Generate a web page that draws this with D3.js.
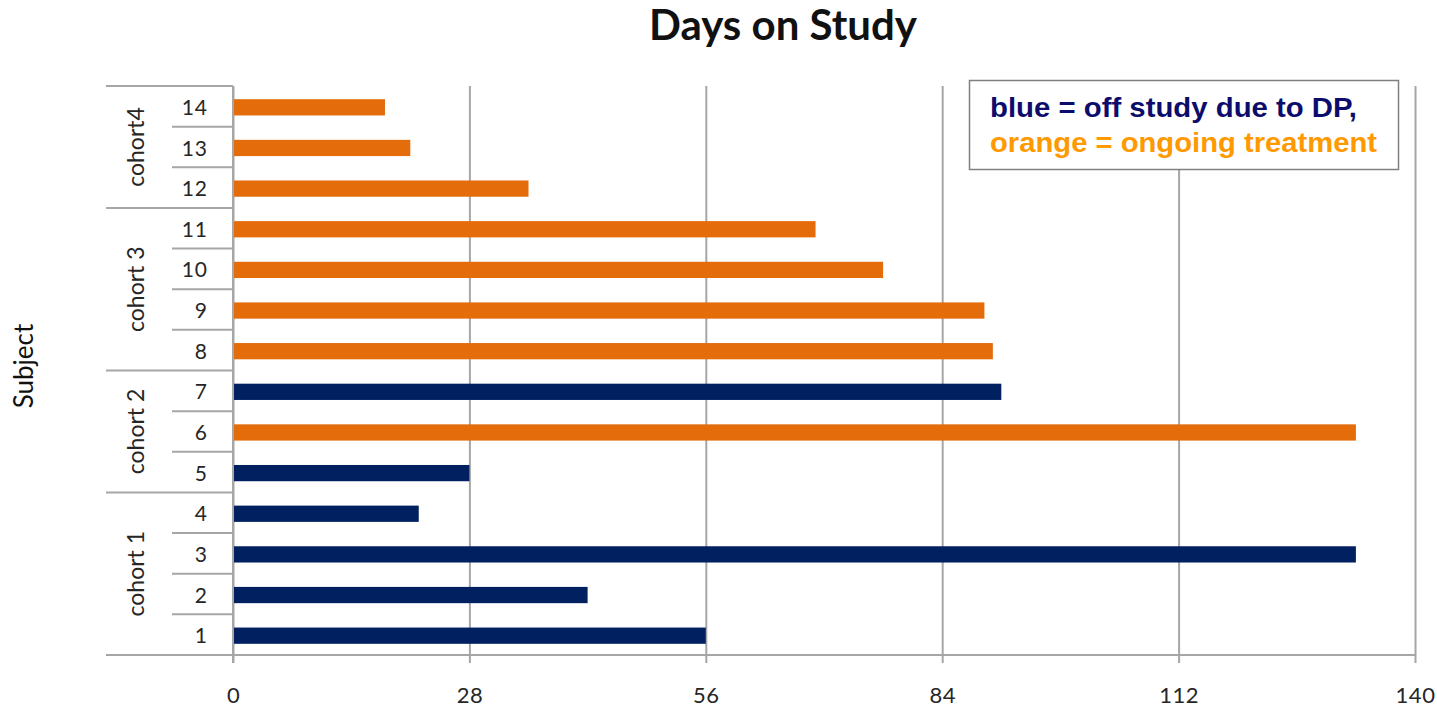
<!DOCTYPE html>
<html>
<head>
<meta charset="utf-8">
<script src="https://cdn.jsdelivr.net/npm/d3@7"></script>
<style>
  html, body { margin: 0; padding: 0; background: #ffffff; }
  svg { display: block; }
</style>
</head>
<body>
<svg id="chart" width="1437" height="708"></svg>
<script>
// Subjects listed bottom to top, with days on study and status
const subjects = ["1", "2", "3", "4", "5", "6", "7", "8", "9", "10", "11", "12", "13", "14"];
const days = [56, 42, 133, 22, 28, 133, 91, 90, 89, 77, 69, 35, 21, 18];
const status = ["off", "off", "off", "off", "off", "on", "off", "on", "on", "on", "on", "on", "on", "on"];

// Cohort grouping: name and the subjects it covers
const cohortNames = ["cohort 1", "cohort 2", "cohort 3", "cohort4"];
const cohortFirst = ["1", "5", "8", "12"];
const cohortLast = ["4", "7", "11", "14"];

const xTicks = [0, 28, 56, 84, 112, 140];

const svg = d3.select("#chart");
const plot = { left: 233, right: 1415, top: 86, bottom: 655 };
const colLeft = 106, subjLeft = 172;
const gridColor = "#a6a6a6";
const colors = { off: "#002060", on: "#e46c0a" };
const font = "Lato, 'Open Sans', sans-serif";
const labelColor = "#262626";

const x = d3.scaleLinear().domain([0, 140]).range([plot.left, plot.right]);
const y = d3.scaleBand()
  .domain(subjects.slice().reverse())
  .range([plot.top, plot.bottom])
  .paddingInner(0.6)
  .paddingOuter(0.3);

// Vertical gridlines with their tick stubs below the axis
const xAxis = d3.axisBottom(x)
  .tickValues(xTicks)
  .tickSize(-(plot.bottom - plot.top))
  .tickSizeOuter(0)
  .tickPadding(0)
  .tickFormat(d3.format("d"));

const gx = svg.append("g")
  .attr("transform", `translate(0,${plot.bottom})`)
  .call(xAxis);
gx.select(".domain").remove();
gx.selectAll(".tick line")
  .attr("y2", -(plot.bottom - plot.top))
  .attr("y1", 8)
  .attr("stroke", gridColor)
  .attr("stroke-width", 2);
gx.selectAll(".tick text")
  .attr("y", 32)
  .attr("fill", labelColor)
  .attr("font-family", font)
  .attr("font-size", 22)
  .attr("letter-spacing", 0.5);

// Bars
svg.append("g")
  .selectAll("rect")
  .data(subjects)
  .join("rect")
  .attr("x", x(0))
  .attr("y", d => y(d) + 1)
  .attr("width", (d, i) => x(days[i]) - x(0))
  .attr("height", y.bandwidth())
  .attr("fill", (d, i) => colors[status[i]]);

// Category axis: two-level (subject, cohort) with separators
const g = svg.append("g").attr("stroke", gridColor).attr("stroke-width", 2);
const step = y.step();
const bandTop = d => y(d) - y.step() * y.paddingInner() / 2;

// Subject separators (short), skipped where a cohort boundary lies
subjects.forEach(s => {
  const yy = bandTop(s);
  if (!cohortLast.includes(s)) {
    g.append("line")
      .attr("x1", subjLeft).attr("x2", plot.left)
      .attr("y1", yy).attr("y2", yy);
  }
});
// Cohort separators (long), top edge of each cohort
cohortLast.forEach(s => {
  const yy = bandTop(s);
  g.append("line")
    .attr("x1", colLeft).attr("x2", plot.left)
    .attr("y1", yy).attr("y2", yy);
});
// Base axis line and the category axis line
g.append("line")
  .attr("x1", colLeft).attr("x2", plot.right)
  .attr("y1", plot.bottom).attr("y2", plot.bottom);
g.append("line")
  .attr("x1", plot.left).attr("x2", plot.left)
  .attr("y1", plot.top).attr("y2", plot.bottom + 8);

// Subject labels
svg.append("g")
  .selectAll("text")
  .data(subjects)
  .join("text")
  .attr("x", 208)
  .attr("y", d => y(d) + y.bandwidth() / 2 + 1)
  .attr("dy", "0.36em")
  .attr("text-anchor", "end")
  .attr("font-family", font)
  .attr("font-size", 21)
  .attr("letter-spacing", 1)
  .attr("fill", labelColor)
  .text(d => d);

// Cohort labels, rotated
svg.append("g")
  .selectAll("text")
  .data(cohortNames)
  .join("text")
  .attr("transform", (d, i) => {
    const y0 = bandTop(cohortLast[i]);
    const y1 = bandTop(cohortFirst[i]) + step;
    return `translate(136,${(y0 + y1) / 2}) rotate(-90)`;
  })
  .attr("dy", "0.36em")
  .attr("text-anchor", "middle")
  .attr("font-family", font)
  .attr("font-size", 23)
  .attr("fill", labelColor)
  .text(d => d);

// Title
svg.append("text")
  .attr("x", 783)
  .attr("y", 40)
  .attr("text-anchor", "middle")
  .attr("font-family", font)
  .attr("font-weight", "bold")
  .attr("font-size", 42)
  .attr("fill", "#111")
  .text("Days on Study");

// Y axis title
svg.append("text")
  .attr("transform", "translate(24,366) rotate(-90)")
  .attr("dy", "0.36em")
  .attr("text-anchor", "middle")
  .attr("font-family", font)
  .attr("font-size", 26)
  .attr("fill", "#111")
  .text("Subject");

// Legend note
const note = svg.append("g");
note.append("rect")
  .attr("x", 969.5).attr("y", 80.5)
  .attr("width", 429).attr("height", 89)
  .attr("fill", "#ffffff")
  .attr("stroke", "#808080")
  .attr("stroke-width", 1.5);
note.append("text")
  .attr("x", 990).attr("y", 117)
  .attr("font-family", "'Liberation Sans', Arial, sans-serif")
  .attr("font-weight", "bold")
  .attr("font-size", 27.5)
  .attr("textLength", 367)
  .attr("lengthAdjust", "spacingAndGlyphs")
  .attr("fill", "#0c0c6c")
  .text("blue = off study due to DP,");
note.append("text")
  .attr("x", 990).attr("y", 152)
  .attr("font-family", "'Liberation Sans', Arial, sans-serif")
  .attr("font-weight", "bold")
  .attr("font-size", 27.5)
  .attr("textLength", 387)
  .attr("lengthAdjust", "spacingAndGlyphs")
  .attr("fill", "#ff9900")
  .text("orange = ongoing treatment");
</script>
</body>
</html>
